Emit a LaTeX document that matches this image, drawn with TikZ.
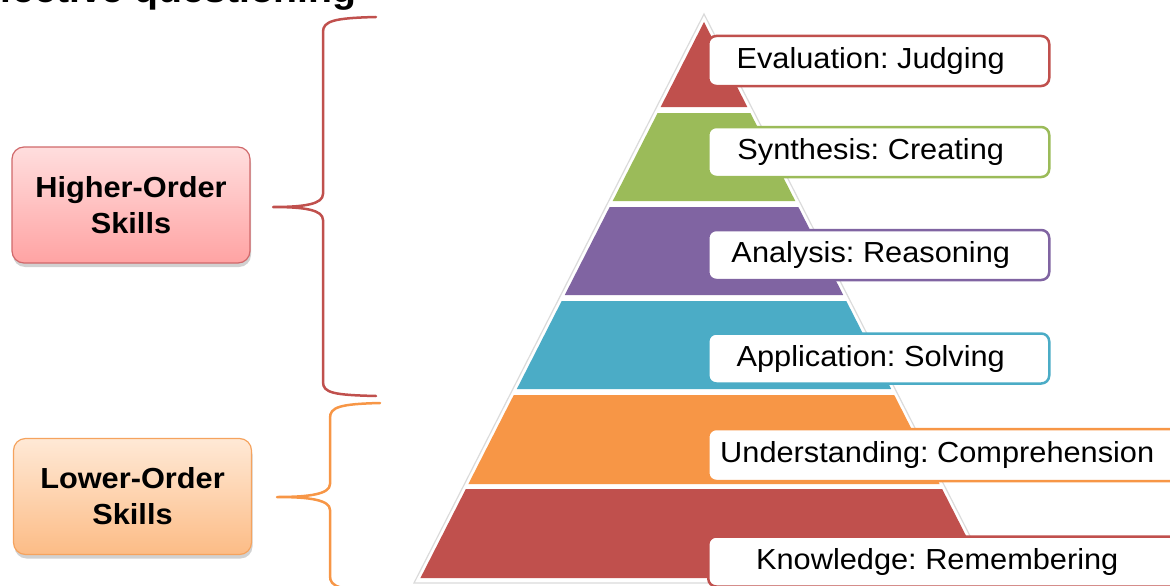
\documentclass[tikz,border=0pt]{standalone}
\usepackage{fontspec}
\setmainfont{Liberation Sans}[FakeStretch=1.06]
\usetikzlibrary{shadows}
\frenchspacing

\definecolor{bloomRed}{HTML}{C0504D}
\definecolor{bloomGreen}{HTML}{9BBB59}
\definecolor{bloomPurple}{HTML}{8064A2}
\definecolor{bloomBlue}{HTML}{4BACC6}
\definecolor{bloomOrange}{HTML}{F79646}
\definecolor{hiTop}{HTML}{FFDEDE}
\definecolor{hiBottom}{HTML}{FFA3A3}
\definecolor{hiEdge}{HTML}{D0686A}
\definecolor{loTop}{HTML}{FFE9D6}
\definecolor{loBottom}{HTML}{FCBC86}
\definecolor{loEdge}{HTML}{F5A35E}

\tikzset{
  labelbox/.style={draw, line width=2.5pt, fill=white, rounded corners=8pt,
    minimum height=50pt, minimum width=341pt, anchor=west, inner sep=0pt,
    font=\fontsize{29}{34}\selectfont},
  skillbox/.style={rounded corners=12pt, line width=1.2pt, align=center,
    minimum width=238pt, minimum height=116pt, inner sep=0pt,
    font=\bfseries\fontsize{29}{36}\selectfont,
    drop shadow={shadow xshift=1pt, shadow yshift=-4pt, opacity=0.3, fill=black!60}},
  brace/.style={line width=2.5pt, line cap=round, line join=round}
}

\begin{document}
\begin{tikzpicture}[x=1pt, y=-1pt]
\useasboundingbox (0,0) rectangle (1170,586);
\clip (0,0) rectangle (1170,586);

% slide title, mostly above the visible area
\node[anchor=base east, inner sep=0pt, font=\bfseries\fontsize{37}{40}\selectfont]
  (title) at (357,2.5) {Effective questioning};

% pyramid: faint outline, then six stacked layers
\draw[black!14, line width=1.2pt, fill=white] (704,14) -- (994,583) -- (414,583) -- cycle;
\foreach \ya/\yb/\col in {22/107/bloomRed, 113/201/bloomGreen, 207/295/bloomPurple,
                          301/389/bloomBlue, 395/484/bloomOrange, 489/578/bloomRed}{
  \pgfmathsetmacro\hta{0.51*(\ya-22)}
  \pgfmathsetmacro\htb{0.51*(\yb-22)}
  \fill[\col] ({704-\hta},\ya) -- ({704+\hta},\ya) -- ({704+\htb},\yb) -- ({704-\htb},\yb) -- cycle;
}

% level labels
\node[labelbox, draw=bloomRed]    (eval)  at (707,61)  {Evaluation: Judging\hspace*{16pt}};
\node[labelbox, draw=bloomGreen]  (synth) at (707,152) {Synthesis: Creating\hspace*{16pt}};
\node[labelbox, draw=bloomPurple] (anal)  at (707,255) {Analysis: Reasoning\hspace*{16pt}};
\node[labelbox, draw=bloomBlue]   (appl)  at (707,358.5) {Application: Solving\hspace*{16pt}};
\node[labelbox, draw=bloomOrange, minimum width=480pt, minimum height=52pt]
  (under) at (707,455) {Understanding: Comprehension\hspace*{22pt}};
\node[labelbox, draw=bloomRed, minimum width=480pt]
  (know)  at (707,561.5) {Knowledge: Remembering\hspace*{22pt}};

% skill groups
\node[skillbox, draw=hiEdge, top color=hiTop, bottom color=hiBottom]
  (higher) at (131,205) {Higher-Order\\Skills};
\node[skillbox, draw=loEdge, top color=loTop, bottom color=loBottom]
  (lower) at (132.5,496.5) {Lower-Order\\Skills};

% braces
\coordinate (hiTip) at (273,207);
\coordinate (loTip) at (277,497);
\draw[brace, bloomRed] (376,17) .. controls (334,18) and (323,21) .. (323,32)
  -- (323,194) .. controls (323,204) and (305,207) .. (hiTip)
  .. controls (305,207) and (323,210) .. (323,220)
  -- (323,382) .. controls (323,393) and (334,395) .. (376,396);
\draw[brace, bloomOrange] (380,403) .. controls (340,404) and (330,407) .. (330,418)
  -- (330,484) .. controls (330,494) and (310,497) .. (loTip)
  .. controls (310,497) and (330,500) .. (330,510)
  -- (330,576) .. controls (330,587) and (340,590) .. (380,591);
\end{tikzpicture}
\end{document}
